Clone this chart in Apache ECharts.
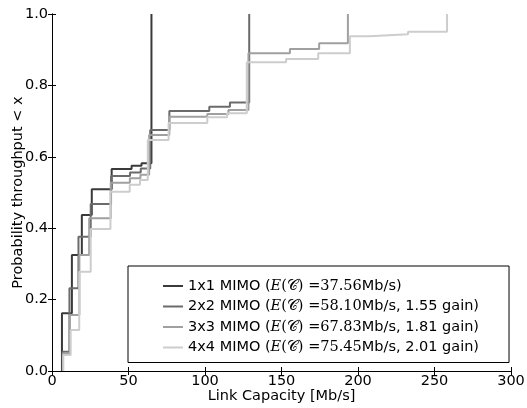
<!DOCTYPE html>
<html><head><meta charset="utf-8">
<script src="https://cdn.jsdelivr.net/npm/echarts@6/dist/echarts.min.js"></script>
<style>html,body{margin:0;padding:0;background:#fff}#c{width:527px;height:408px}</style>
</head><body><div id="c"></div>
<script>
// Step CDF data: capacity (Mb/s) where the step occurs, and cumulative probability after it
const names = ['1x1 MIMO', '2x2 MIMO', '3x3 MIMO', '4x4 MIMO'];
const means = ['37.56', '58.10', '67.83', '75.45'];
const gains = ['', '1.55', '1.81', '2.01'];

const s1x = [6.5, 13, 19.5, 26, 39, 52, 58.5, 65];
const s1p = [0.162, 0.325, 0.437, 0.509, 0.566, 0.575, 0.582, 1.0];

const s2x = [7.0, 11.4, 17.3, 25.3, 38.6, 51.0, 58.0, 64.2, 76.7, 102.8, 116.3, 128.9];
const s2p = [0.054, 0.232, 0.376, 0.468, 0.546, 0.556, 0.567, 0.675, 0.728, 0.740, 0.752, 1.0];

const s3x = [7.2, 11.6, 17.9, 24.3, 38.4, 50.9, 57.8, 63.5, 76.7, 101.5, 115.3, 128.4, 155.5, 174.6, 193.4];
const s3p = [0.050, 0.157, 0.325, 0.428, 0.527, 0.540, 0.550, 0.661, 0.712, 0.720, 0.731, 0.890, 0.902, 0.918, 1.0];

const s4x = [7.4, 12.2, 17.8, 25.3, 38.2, 50.8, 57.5, 62.6, 76.2, 101.5, 114.4, 127.3, 153.0, 174.0, 194.7, 207.3, 232.7, 258.2];
const s4p = [0.045, 0.115, 0.278, 0.398, 0.502, 0.522, 0.535, 0.647, 0.695, 0.711, 0.722, 0.865, 0.874, 0.890, 0.938, 0.943, 0.950, 1.0];

const xTicks = [0, 50, 100, 150, 200, 250, 300];
const yTicks = [0.0, 0.2, 0.4, 0.6, 0.8, 1.0];

const colors = ['#3a3a3a', '#6b6b6b', '#a0a0a0', '#cdcdcd'];
const allX = [s1x, s2x, s3x, s4x];
const allP = [s1p, s2p, s3p, s4p];

function build(xs, ps) {
  const d = [[xs[0], 0]];
  for (let i = 0; i < xs.length; i++) d.push([xs[i], ps[i]]);
  return d;
}

const chart = echarts.init(document.getElementById('c'), null, {renderer: 'canvas'});
const font = 'DejaVu Sans';
const fs = 14.5;
const axisCommon = {
  type: 'value',
  axisLine: {show: true, lineStyle: {color: '#000', width: 1}},
  axisTick: {show: true, inside: true, length: 4, lineStyle: {color: '#000'}},
  splitLine: {show: false}
};
const legendLabels = {};
names.forEach((n, i) => {
  let s = '{t|' + n + ' (}{m|E}{u|(}{c|𝒞}{u|)}{u| =' + means[i] + '}{t|Mb/s';
  if (gains[i]) s += ', ' + gains[i] + ' gain';
  s += ')}';
  legendLabels[n] = s;
});

chart.setOption({
  animation: false,
  backgroundColor: '#fff',
  color: colors,
  grid: {left: 52, right: 16, top: 14, bottom: 37, containLabel: false, outerBoundsMode: 'none'},
  xAxis: [
    Object.assign({}, axisCommon, {
      min: 0, max: 300, interval: 50, position: 'bottom',
      name: 'Link Capacity [Mb/s]', nameLocation: 'middle', nameGap: 18, nameMoveOverlap: false,
      nameTextStyle: {fontFamily: font, fontSize: fs, color: '#000'},
      axisLabel: {fontFamily: font, fontSize: fs, color: '#000', margin: 3,
        formatter: v => xTicks.indexOf(v) >= 0 ? String(v) : ''}
    }),
    Object.assign({}, axisCommon, {
      min: 0, max: 300, interval: 50, position: 'top', axisLabel: {show: false}
    })
  ],
  yAxis: [
    Object.assign({}, axisCommon, {
      min: 0, max: 1, interval: 0.2, position: 'left',
      name: 'Probability throughput < x', nameLocation: 'middle', nameGap: 26, nameMoveOverlap: false,
      nameTextStyle: {fontFamily: font, fontSize: fs, color: '#000'},
      axisLabel: {fontFamily: font, fontSize: fs, color: '#000', margin: 4,
        formatter: v => v.toFixed(1)}
    }),
    Object.assign({}, axisCommon, {
      min: 0, max: 1, interval: 0.2, position: 'right', axisLabel: {show: false}
    })
  ],
  legend: {
    orient: 'vertical', left: 128, top: 266,
    icon: 'rect', itemWidth: 20, itemHeight: 2, itemGap: 4.5,
    borderColor: '#000', borderWidth: 1, borderRadius: 0,
    padding: [12, 30, 7, 35],
    backgroundColor: '#fff',
    data: names,
    formatter: n => legendLabels[n],
    textStyle: {
      fontFamily: font, fontSize: fs, color: '#000', lineHeight: 16,
      rich: {
        t: {fontFamily: font, fontSize: fs, color: '#000'},
        m: {fontFamily: 'DejaVu Serif', fontStyle: 'italic', fontSize: fs, color: '#000'},
        u: {fontFamily: 'DejaVu Serif', fontSize: fs, color: '#000'},
        c: {fontFamily: 'DejaVu Sans', fontSize: fs, color: '#000'}
      }
    }
  },
  series: names.map((n, i) => ({
    name: n, type: 'line', step: 'end', symbol: 'none',
    xAxisIndex: 0, yAxisIndex: 0,
    lineStyle: {width: 2, color: colors[i]},
    itemStyle: {color: colors[i]},
    data: build(allX[i], allP[i])
  }))
});
</script></body></html>
